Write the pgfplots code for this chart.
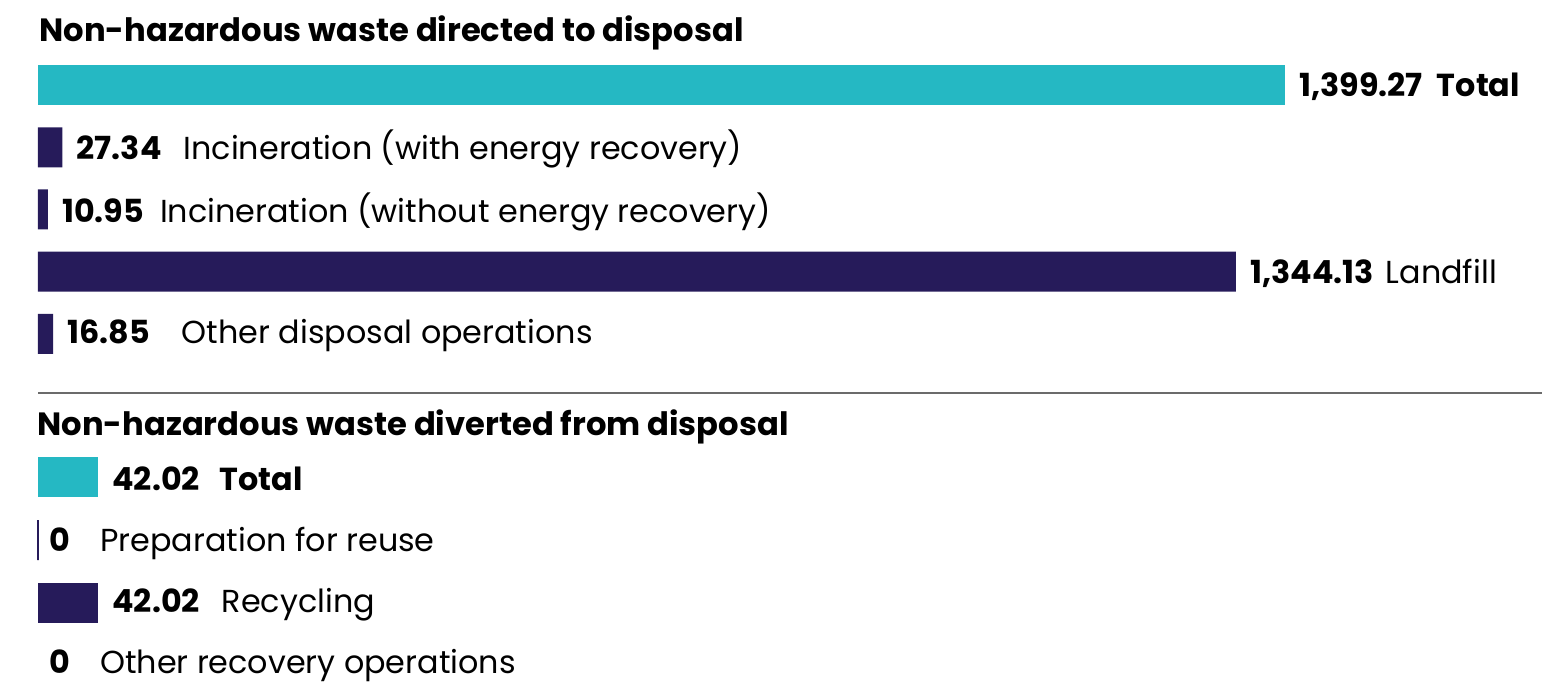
\documentclass[border=0pt]{standalone}
\usepackage{pgfplots}
\pgfplotsset{compat=1.18}
\usepackage{fontspec}
\setmainfont{Poppins}
\definecolor{wteal}{HTML}{25B8C3}
\definecolor{wnavy}{HTML}{261B5A}
\definecolor{wrule}{HTML}{6B6B6B}

\pgfplotsset{
  waste bars/.style={
    xbar, bar shift=0pt, bar width=20pt,
    scale only axis, width=623.5pt,
    xmin=0, y dir=reverse,
    axis lines=none, ticks=none,
    clip=false,
    anchor=north west,
    nodes near coords={\pgfplotspointmeta},
    point meta=explicit symbolic,
    nodes near coords style={font=\fontsize{15.9}{19}\selectfont, text=black,
      anchor=west, inner sep=0pt, xshift=7pt, yshift=-1pt},
  }
}

\begin{document}
\begin{tikzpicture}[x=0.5pt,y=-0.5pt]
\coordinate (top) at (38,53.9);
\coordinate (bot) at (38,445.5);

\node[anchor=base west, inner sep=0pt, font=\bfseries\fontsize{16.1}{19}\selectfont] at (39,42)
  {Non-hazardous waste directed to disposal};
\draw[wrule, line width=0.6pt] (38,393) -- (1542,393);
\node[anchor=base west, inner sep=0pt, font=\bfseries\fontsize{16.1}{19}\selectfont] at (37,435)
  {Non-hazardous waste diverted from disposal};

% directed to disposal
\begin{axis}[waste bars, at={(top)}, height=155.6pt, xmax=1399.27, ymin=-0.5, ymax=4.5]
\addplot[fill=wteal, draw=none] coordinates {
  (1399.27,0) [{\textbf{1,399.27}\hspace{7pt}\textbf{Total}}]
};
\addplot[fill=wnavy, draw=none] coordinates {
  (27.34,1) [{\textbf{27.34}\hspace{11pt}Incineration (with energy recovery)}]
  (10.95,2) [{\textbf{10.95}\hspace{8pt}Incineration (without energy recovery)}]
  (1344.13,3) [{\textbf{1,344.13}\hspace{6pt}Landfill}]
  (16.85,4) [{\textbf{16.85}\hspace{16pt}Other disposal operations}]
};
\end{axis}

% diverted from disposal (zero bars: shifts below add to the ones above)
\begin{axis}[waste bars, at={(bot)}, height=126pt, xmax=873.3, ymin=-0.5, ymax=3.5]
\addplot[fill=wteal, draw=none] coordinates {
  (42.02,0) [{\textbf{42.02}\hspace{10pt}\textbf{Total}}]
};
\addplot[fill=wnavy, draw=wnavy, line width=0.6pt,
  nodes near coords style={xshift=-1.5pt, yshift=-0.5pt}] coordinates {
  (0,1) [{\textbf{0}\hspace{15pt}Preparation for reuse}]
};
\addplot[fill=wnavy, draw=none] coordinates {
  (42.02,2) [{\textbf{42.02}\hspace{11pt}Recycling}]
};
\addplot[fill=none, draw=none,
  nodes near coords style={xshift=-1.5pt, yshift=1pt}] coordinates {
  (0,3) [{\textbf{0}\hspace{15pt}Other recovery operations}]
};
\end{axis}

\pgfresetboundingbox
\path[use as bounding box] (0,0) rectangle (1542,684);
\end{tikzpicture}
\end{document}
